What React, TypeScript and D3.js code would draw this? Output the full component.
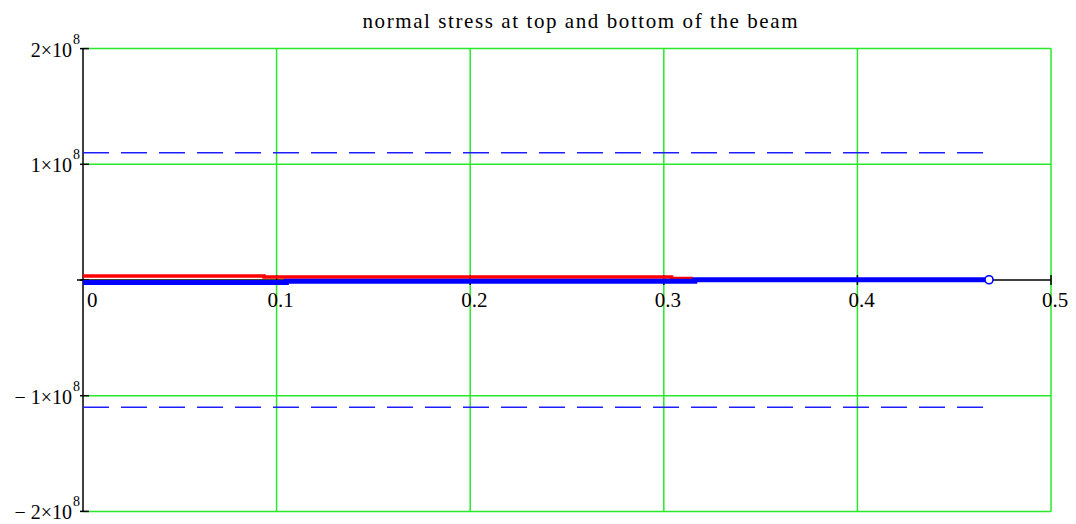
import React from "react";
import * as d3 from "d3";

const W = 1076;
const H = 524;

const titleText = "normal stress at top and bottom of the beam";
const xTicks = [0, 0.1, 0.2, 0.3, 0.4, 0.5];
const xTickLabels = ["0", "0.1", "0.2", "0.3", "0.4", "0.5"];
const yTicks = [-2e8, -1e8, 0, 1e8, 2e8];
const yTickMantissa = ["\u2212 2\u00d710", "\u2212 1\u00d710", "", "1\u00d710", "2\u00d710"];
const yTickExponent = ["8", "8", "", "8", "8"];

// top-fibre stress (red)
const redX = [0, 0.0935, 0.0935, 0.304, 0.304, 0.315];
const redY = [3.5e6, 3.5e6, 2.6e6, 2.6e6, 1.4e6, 1.4e6];
// bottom-fibre stress (blue)
const blueX = [0, 0.105, 0.105, 0.316, 0.316, 0.468];
const blueY = [-2.2e6, -2.2e6, -1.0e6, -1.0e6, 0.2e6, 0.2e6];
// allowable stress limits (dashed)
const limitValues = [1.1e8, -1.1e8];
const limitX = [0, 0.467];

export default function App() {
  const x = d3.scaleLinear().domain([0, 0.5]).range([83, 1051]);
  const y = d3.scaleLinear().domain([-2e8, 2e8]).range([511.4, 48.6]);
  const line = d3
    .line<[number, number]>()
    .x((d) => x(d[0]))
    .y((d) => y(d[1]));
  const red = redX.map((v, i) => [v, redY[i]] as [number, number]);
  const blue = blueX.map((v, i) => [v, blueY[i]] as [number, number]);
  const green = "rgb(40,232,40)";
  const font = "'Liberation Serif', 'Times New Roman', serif";
  const last = blue[blue.length - 1];

  return (
    <svg
      width={W}
      height={H}
      style={{ position: "absolute", left: 0, top: 0, background: "#fff" }}
      fontFamily={font}
    >
      <rect x={0} y={0} width={W} height={H} fill="#fff" />
      <text x={580} y={28} fontSize={21} textAnchor="middle" textLength={435} lengthAdjust="spacing" fill="#000">
        {titleText}
      </text>
      {/* vertical grid */}
      {xTicks.filter((t) => t > 0).map((t) => (
        <line key={"gx" + t} x1={x(t)} x2={x(t)} y1={y(2e8)} y2={y(-2e8)} stroke={green} strokeWidth={1.5} />
      ))}
      {/* horizontal grid */}
      {yTicks.filter((t) => t !== 0).map((t) => (
        <line key={"gy" + t} x1={x(0)} x2={x(0.5)} y1={y(t)} y2={y(t)} stroke={green} strokeWidth={1.5} />
      ))}
      {/* axes */}
      <line x1={x(0)} x2={x(0)} y1={y(2e8)} y2={y(-2e8)} stroke="#000" strokeWidth={1.5} />
      <line x1={x(0) - 6} x2={x(0.5)} y1={y(0)} y2={y(0)} stroke="#000" strokeWidth={1.5} />
      {yTicks.map((t) => (
        <line key={"ty" + t} x1={x(0) - 3} x2={x(0) + 6} y1={y(t)} y2={y(t)} stroke="#000" strokeWidth={1.5} />
      ))}
      {xTicks.filter((t) => t > 0).map((t) => (
        <line key={"tx" + t} x1={x(t)} x2={x(t)} y1={y(0) - 5} y2={y(0) + 5} stroke="#000" strokeWidth={1.5} />
      ))}
      {/* limits */}
      {limitValues.map((v) => (
        <line
          key={"lim" + v}
          x1={x(limitX[0])}
          x2={x(limitX[1])}
          y1={y(v)}
          y2={y(v)}
          stroke="rgb(30,30,255)"
          strokeWidth={1.6}
          strokeDasharray="26 12"
        />
      ))}
      {/* series */}
      <path d={line(red) || ""} fill="none" stroke="rgb(255,0,0)" strokeWidth={3.5} />
      <path d={line(blue) || ""} fill="none" stroke="rgb(0,0,255)" strokeWidth={5} />
      <circle cx={x(last[0])} cy={y(last[1])} r={4} fill="#fff" stroke="rgb(0,0,255)" strokeWidth={1.6} />
      {/* x labels */}
      {xTicks.map((t, i) => (
        <text
          key={"xl" + t}
          x={t === 0 ? x(t) + 4 : x(t) - 9}
          y={y(0) + 27}
          fontSize={21}
          fill="#000"
        >
          {xTickLabels[i]}
        </text>
      ))}
      {/* y labels */}
      {yTicks.map((t, i) =>
        yTickMantissa[i] ? (
          <text key={"yl" + t} x={80} y={y(t) + 8} fontSize={20} textAnchor="end" fill="#000">
            {yTickMantissa[i]}
            <tspan dx={1} dy={-13} fontSize={14}>
              {yTickExponent[i]}
            </tspan>
          </text>
        ) : null
      )}
    </svg>
  );
}
